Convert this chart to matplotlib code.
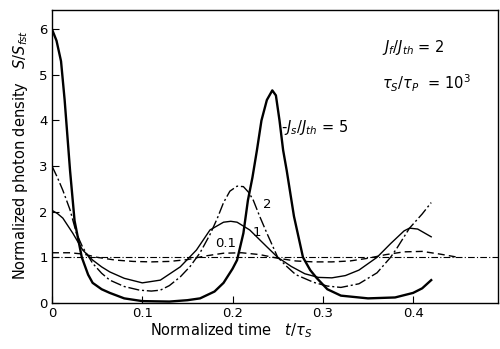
import numpy as np
import matplotlib
matplotlib.use("Agg")
import matplotlib.pyplot as plt

# J_s/J_th = 5 (thick solid)
t5 = [0, 0.005, 0.01, 0.014, 0.02, 0.025, 0.033, 0.04, 0.045, 0.055, 0.064, 0.08, 0.1,
      0.13, 0.15, 0.164, 0.18, 0.19, 0.2, 0.205, 0.212, 0.217, 0.222, 0.227, 0.232, 0.238,
      0.244, 0.248, 0.252, 0.256, 0.26, 0.268, 0.278, 0.286, 0.293, 0.305, 0.32, 0.35,
      0.38, 0.40, 0.41, 0.42]
s5 = [6.0, 5.75, 5.3, 4.45, 2.9, 1.8, 1.0, 0.62, 0.44, 0.3, 0.22, 0.1, 0.04,
      0.03, 0.06, 0.1, 0.25, 0.44, 0.75, 0.94, 1.53, 2.25, 2.75, 3.35, 4.0, 4.45,
      4.66, 4.55, 4.0, 3.35, 2.9, 1.9, 1.0, 0.72, 0.55, 0.3, 0.16, 0.1,
      0.12, 0.22, 0.32, 0.5]

# J_s/J_th = 2 (dash-dot)
t2 = [0, 0.006, 0.012, 0.02, 0.027, 0.034, 0.045, 0.055, 0.064, 0.08, 0.097, 0.11, 0.12,
      0.13, 0.142, 0.153, 0.164, 0.175, 0.183, 0.19, 0.197, 0.205, 0.212, 0.218, 0.223,
      0.23, 0.238, 0.25, 0.26, 0.27, 0.29, 0.305, 0.32, 0.34, 0.36, 0.375, 0.382, 0.396,
      0.41, 0.42]
s2 = [3.0, 2.75, 2.47, 2.04, 1.53, 1.22, 0.87, 0.65, 0.5, 0.36, 0.28, 0.26, 0.28,
      0.38, 0.57, 0.8, 1.1, 1.5, 1.85, 2.2, 2.45, 2.56, 2.55, 2.42, 2.25,
      1.9, 1.53, 1.0, 0.8, 0.62, 0.45, 0.37, 0.34, 0.42, 0.66, 1.0, 1.2, 1.64,
      1.95, 2.2]

# J_s/J_th = 1 (thin solid)
t1 = [0, 0.006, 0.012, 0.023, 0.034, 0.045, 0.055, 0.064, 0.08, 0.1, 0.12, 0.142, 0.16,
      0.175, 0.19, 0.198, 0.205, 0.219, 0.238, 0.25, 0.265, 0.28, 0.295, 0.31, 0.325,
      0.34, 0.36, 0.375, 0.39, 0.396, 0.405, 0.42]
s1 = [2.03, 1.96, 1.86, 1.53, 1.16, 0.94, 0.79, 0.68, 0.54, 0.44, 0.5, 0.79, 1.16,
      1.6, 1.77, 1.79, 1.77, 1.6, 1.23, 1.0, 0.8, 0.64, 0.56, 0.55, 0.6,
      0.72, 1.0, 1.3, 1.58, 1.64, 1.62, 1.45]

# J_s/J_th = 0.1 (dashed)
t01 = [0, 0.02, 0.035, 0.05, 0.07, 0.09, 0.11, 0.13, 0.15, 0.17, 0.19, 0.21, 0.23,
       0.25, 0.27, 0.29, 0.31, 0.33, 0.35, 0.37, 0.39, 0.41, 0.43, 0.45]
s01 = [1.1, 1.1, 1.07, 1.0, 0.94, 0.91, 0.9, 0.91, 0.95, 1.03, 1.09, 1.1, 1.06,
       0.98, 0.92, 0.9, 0.9, 0.92, 0.98, 1.06, 1.12, 1.13, 1.07, 1.0]

# steady state level
t_ss = [0, 0.494]
s_ss = [1.0, 1.0]

xticks = [0, 0.1, 0.2, 0.3, 0.4]
xticklabels = ["0", "0.1", "0.2", "0.3", "0.4"]
yticks = [0, 1, 2, 3, 4, 5, 6]


def figureSettings():
    fig = plt.figure(figsize=(5.0, 3.49), dpi=100)
    ax = fig.add_axes([0.104, 0.132, 0.892, 0.839])
    ax.set_xlim(0, 0.494)
    ax.set_ylim(0, 6.42)
    ax.set_xticks(xticks)
    ax.set_xticklabels(xticklabels)
    ax.set_yticks(yticks)
    ax.tick_params(direction="in", length=5, width=0.8, labelsize=9.5, pad=3)
    for sp in ax.spines.values():
        sp.set_linewidth(1.0)

    fig.text(0.462, 0.054, r"Normalized time   $t/\tau_S$", fontsize=10.5,
             ha="center", va="center")
    fig.text(0.042, 0.555, r"Normalized photon density   $S/S_{fst}$", fontsize=10.5,
             ha="center", va="center", rotation=90)
    return fig, ax


def main():
    fig, ax = figureSettings()

    ax.plot(t_ss, s_ss, color="black", lw=0.8, dashes=(6, 2, 1, 2))
    ax.plot(t01, s01, color="black", lw=1.0, dashes=(5, 3))
    ax.plot(t1, s1, color="black", lw=1.0)
    ax.plot(t2, s2, color="black", lw=1.0, dashes=(8, 2, 1.5, 2))
    ax.plot(t5, s5, color="black", lw=1.7)

    ax.text(0.192, 1.31, "0.1", fontsize=9.5, ha="center", va="center")
    ax.text(0.227, 1.55, "1", fontsize=9.5, ha="center", va="center")
    ax.text(0.238, 2.15, "2", fontsize=9.5, ha="center", va="center")
    ax.text(0.254, 3.85, r"-$J_s/J_{th}$ = 5", fontsize=10.5, ha="left", va="center")
    ax.text(0.365, 5.6, r"$J_f/J_{th}$ = 2", fontsize=10.5, ha="left", va="center")
    ax.text(0.365, 4.82, r"$\tau_S/\tau_P$  = 10$^3$", fontsize=10.5, ha="left", va="center")

    fig.savefig("out.png", dpi=100)


if __name__ == "__main__":
    main()
